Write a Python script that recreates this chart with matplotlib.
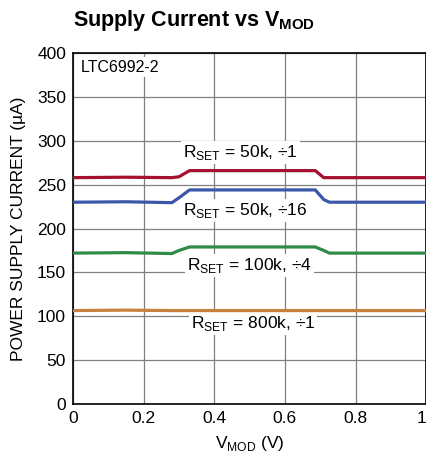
import matplotlib.pyplot as plt

plt.rcParams["font.family"] = ["Liberation Sans", "DejaVu Sans"]

# V_MOD sweep points (V) and supply current (uA) for each setting
vmod = [0.0, 0.15, 0.28, 0.30, 0.33, 0.50, 0.686, 0.71, 0.726, 0.85, 1.0]
i_50k_div1 = [258, 258.5, 258, 259, 266, 266, 266, 258, 258, 258, 258]
i_50k_div16 = [230, 230.5, 229.5, 235, 244, 244, 244, 233, 230, 230, 230]
i_100k_div4 = [172, 172.5, 171.5, 175, 179, 179, 179, 175, 172, 172, 172]
i_800k_div1 = [106.5, 107, 106.5, 106.5, 106.5, 106.5, 106.5, 106.5, 106.5, 106.5, 106.5]

curves = [
    (i_50k_div1, "#a50f30", "R$_{\\mathregular{SET}}$ = 50k, ÷1", 0.473, 287),
    (i_50k_div16, "#3b57a9", "R$_{\\mathregular{SET}}$ = 50k, ÷16", 0.487, 221),
    (i_100k_div4, "#2f8c47", "R$_{\\mathregular{SET}}$ = 100k, ÷4", 0.50, 158),
    (i_800k_div1, "#c8813c", "R$_{\\mathregular{SET}}$ = 800k, ÷1", 0.51, 92),
]

fig = plt.figure(figsize=(4.27, 4.63), dpi=100)
ax = fig.add_axes([0.171, 0.1274, 0.827, 0.758])

for vals, color, label, lx, ly in curves:
    ax.plot(vmod, vals, color=color, lw=2.3, solid_capstyle="butt", zorder=3)
    ax.text(lx, ly, label, ha="center", va="center", fontsize=12.5, zorder=2,
            bbox=dict(facecolor="white", edgecolor="none", pad=1.5))

ax.text(0.022, 384, "LTC6992-2", ha="left", va="center", fontsize=11.5, zorder=4,
        bbox=dict(facecolor="white", edgecolor="none", pad=2))

ax.set_xlim(0, 1)
ax.set_ylim(0, 400)
ax.set_xticks([0, 0.2, 0.4, 0.6, 0.8, 1])
ax.set_xticklabels(["0", "0.2", "0.4", "0.6", "0.8", "1"])
ax.get_xticklabels()[-1].set_ha("right")
ax.set_yticks(range(0, 401, 50))
ax.grid(True, color="#808080", lw=0.9, zorder=1)
ax.set_axisbelow(True)
ax.tick_params(length=0, labelsize=12.5, pad=5)
for s in ax.spines.values():
    s.set_linewidth(1.2)
    s.set_color("black")

ax.set_xlabel("V$_{\\mathregular{MOD}}$ (V)", fontsize=12.5, labelpad=6)
ax.set_ylabel("POWER SUPPLY CURRENT (µA)", fontsize=12.5, labelpad=8)

fig.text(0.171, 0.955, "Supply Current vs V$_{\\mathregular{MOD}}$", fontsize=15.5,
         fontweight="bold", ha="left", va="center")

fig.savefig("out.png", dpi=100)
